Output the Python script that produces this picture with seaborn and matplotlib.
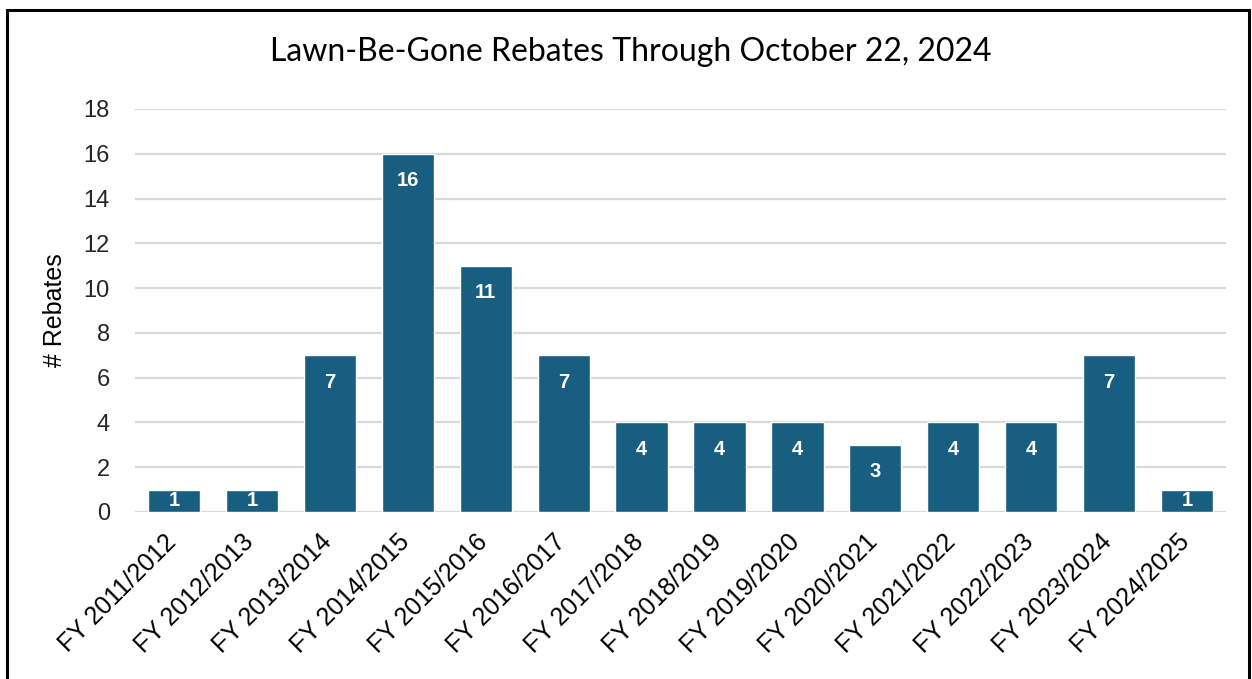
import matplotlib
matplotlib.use("Agg")
import matplotlib.pyplot as plt
import matplotlib.transforms as mtransforms
import seaborn as sns
import pandas as pd
from matplotlib.patches import Rectangle

categories = ["FY 2011/2012", "FY 2012/2013", "FY 2013/2014", "FY 2014/2015",
              "FY 2015/2016", "FY 2016/2017", "FY 2017/2018", "FY 2018/2019",
              "FY 2019/2020", "FY 2020/2021", "FY 2021/2022", "FY 2022/2023",
              "FY 2023/2024", "FY 2024/2025"]
rebates = [1, 1, 7, 16, 11, 7, 4, 4, 4, 3, 4, 4, 7, 1]
yticks = [0, 2, 4, 6, 8, 10, 12, 14, 16, 18]
title = "Lawn-Be-Gone Rebates Through October 22, 2024"
ylabel = "# Rebates"

df = pd.DataFrame({"fy": categories, "n": rebates})

sns.set_theme(style="white")
plt.rcParams["font.family"] = ["Liberation Sans", "DejaVu Sans"]

fig = plt.figure(figsize=(12.52, 6.79), dpi=100)
ax = fig.add_axes([0.1078, 0.246, 0.8715, 0.5935])

bar_color = "#175E80"
sns.barplot(data=df, x="fy", y="n", color=bar_color, width=0.67,
            saturation=1, ax=ax, zorder=3)

ax.set_ylim(0, 18)
ax.set_xlim(-0.5, len(categories) - 0.5)
ax.set_yticks(yticks)
ax.yaxis.grid(True, color="#D9D9D9", linewidth=1.6, zorder=0)
ax.xaxis.grid(False)
for s in ax.spines.values():
    s.set_visible(False)
ax.tick_params(axis="y", labelsize=17, colors="#262626", length=0, pad=18)
ax.tick_params(axis="x", labelsize=18, colors="#000000", length=0, pad=13)
ax.set_xticks(range(len(categories)))
ax.set_xticklabels(categories, rotation=45, ha="right", rotation_mode="anchor")
offset = mtransforms.ScaledTranslation(-10 / 100, 0, fig.dpi_scale_trans)
for lbl in ax.get_xticklabels():
    lbl.set_transform(lbl.get_transform() + offset)
ax.set_xlabel("")
ax.set_ylabel(ylabel, fontsize=18, color="#000000", labelpad=12)

for i, v in enumerate(rebates):
    ypos = max(v - 1.2, v / 2)
    ax.text(i, ypos, str(v), ha="center", va="center", color="white",
            fontsize=14.5, fontweight="bold", zorder=4)

fig.text(0.504, 1 - 52 / 679, title, ha="center", va="center", fontsize=23,
         family=["Lato", "DejaVu Sans"], color="#000000")

fig.patches.append(Rectangle((7 / 1252, -0.05), (1249 - 7) / 1252, 1.05 - 10 / 679,
                             transform=fig.transFigure, fill=False,
                             edgecolor="black", linewidth=2.2))

fig.savefig("out.png", dpi=100)
